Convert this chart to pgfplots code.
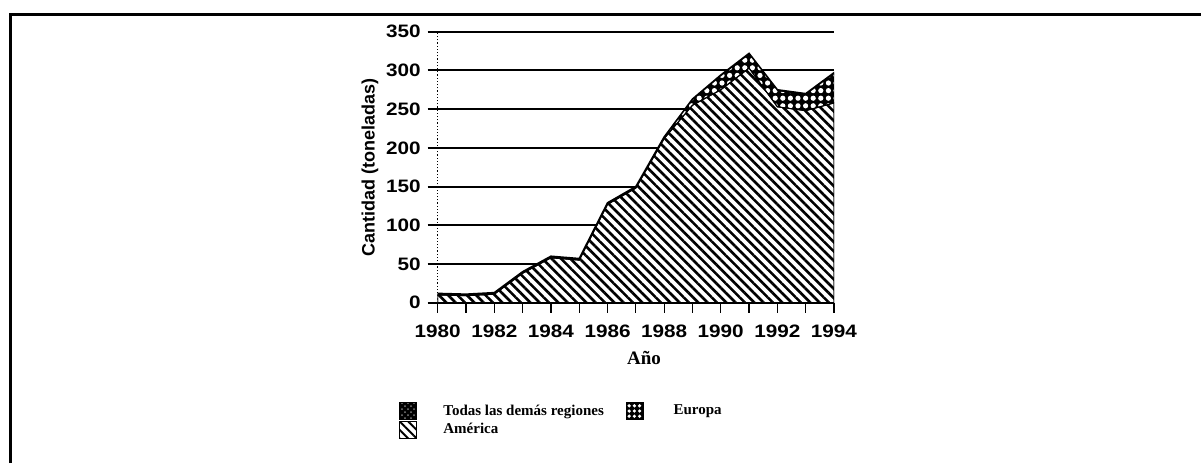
\documentclass[border=0pt]{standalone}
\usepackage{fontspec}
\setmainfont{Liberation Serif}
\newfontfamily\hv{Liberation Sans}
\newfontfamily\hvw[FakeStretch=1.15]{Liberation Sans}
\usepackage{pgfplots}
\usepackage{pgfplotstable}
\pgfplotsset{compat=1.18}
\usetikzlibrary{patterns,patterns.meta}

\pgfplotstableread{
year america europa otras
1980 10 0 2
1981 9 0 2
1982 11 0 2
1983 38 0 2
1984 58 0 2
1985 55 0 2
1986 127 0 2
1987 148 0 2
1988 212 0 2
1989 255 6 2
1990 275 17 2
1991 303 17 2
1992 253 20 2
1993 248 20 2
1994 258 37 2
}\datatable

\begin{document}
\begin{tikzpicture}
\path[use as bounding box] (0,0) rectangle (600.5pt,231.5pt);
\draw[line width=1.5pt] (5pt,0) -- (5pt,224.5pt) -- (600.5pt,224.5pt);
\begin{axis}[
  at={(218.85pt,80.15pt)}, anchor=south west,
  scale only axis, width=198.15pt, height=135.5pt,
  xmin=1980, xmax=1994, ymin=0, ymax=350,
  stack plots=y,
  axis x line*=bottom, axis y line*=left,
  x axis line style={-, line width=1pt},
  y axis line style={-, densely dotted, line width=0.6pt},
  tick align=outside, major tick length=5pt,
  xtick={1980,...,1994},
  xticklabels={1980,,1982,,1984,,1986,,1988,,1990,,1992,,1994},
  ytick={0,50,...,350},
  xtick style={line width=0.6pt, black},
  ytick style={line width=1pt, black},
  ymajorgrids, grid style={line width=1pt, black},
  /pgf/number format/assume math mode=true,
  ticklabel style={font=\hvw\bfseries\fontsize{9}{10}\selectfont},
  xticklabel style={yshift=-2.5pt},
  xlabel={Año},
  xlabel style={font=\bfseries\fontsize{9.5}{10}\selectfont, at={(axis description cs:0.5206,0)}, anchor=base, yshift=-30.7pt},
  ylabel={Cantidad (toneladas)},
  ylabel style={font=\hv\bfseries\fontsize{9}{10}\selectfont, at={(axis description cs:-0.171,0.5)}, anchor=center},
  legend image code/.code={\path[#1] (0pt,-4.25pt) rectangle (8.5pt,4.25pt);},
  legend columns=2,
  legend cell align=left,
  legend style={at={(axis description cs:-0.1002,-0.3664)}, anchor=north west, draw=none, fill=none, inner sep=0pt,
    font=\bfseries\fontsize{7.5}{8}\selectfont, row sep=0pt, nodes={inner sep=0pt},
    /tikz/column 1/.style={column sep=13pt}, /tikz/column 2/.style={column sep=11pt}, /tikz/column 3/.style={column sep=15pt}},
]
\addplot[fill=white, draw=black, line width=0.5pt, forget plot,
  postaction={pattern={Lines[angle=-45,distance=3.3pt,line width=1.3pt]}}]
  table[x=year,y=america]{\datatable} \closedcycle;
\addplot[fill=black, draw=none, forget plot,
  postaction={pattern={Dots[radius=1.3pt,distance=3.8pt]},pattern color=white}]
  table[x=year,y=europa]{\datatable} \closedcycle;
\addplot[fill=black, draw=black, line width=0.8pt, forget plot]
  table[x=year,y=otras]{\datatable} \closedcycle;
\addlegendimage{fill=black, postaction={pattern=crosshatch dots, pattern color=gray}}
\addlegendentry{Todas las demás regiones}
\addlegendimage{fill=black, postaction={pattern={Dots[radius=0.9pt,distance=2.6pt]}, pattern color=white}}
\addlegendentry{Europa}
\addlegendimage{fill=white, postaction={pattern={Lines[angle=-45,distance=3pt,line width=1pt]}}}
\addlegendentry{América}
\end{axis}
\end{tikzpicture}
\end{document}
